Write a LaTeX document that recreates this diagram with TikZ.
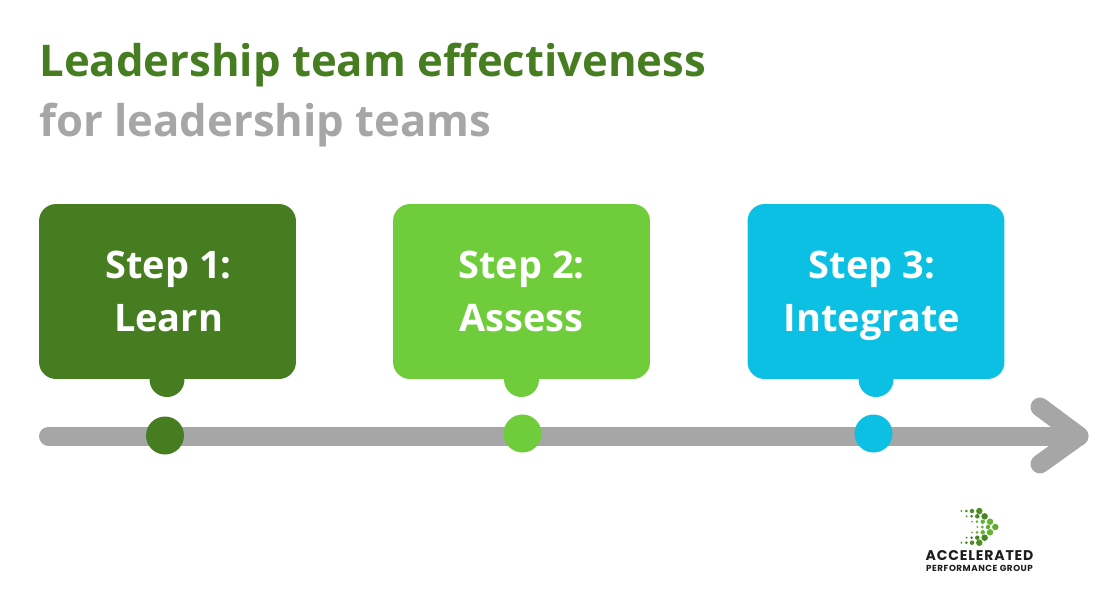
\documentclass[tikz,border=0pt]{standalone}
\usepackage{fontspec}
\usepackage{tikz}
\usetikzlibrary{positioning}
\setmainfont{Open Sans}
\newfontfamily\logofont[LetterSpace=6]{Poppins}
\newcommand{\stepstrut}{\rule{0pt}{24.4pt}}
\definecolor{darkgreen}{HTML}{467D21}
\definecolor{lightgreen}{HTML}{6FCC3A}
\definecolor{skyblue}{HTML}{0CC0E3}
\definecolor{railgray}{HTML}{A6A6A6}
\definecolor{logoblack}{HTML}{1E1E1E}
\tikzset{
  stepbox/.style={rounded corners=0.34cm,minimum width=5.14cm,minimum height=3.5cm,align=center,text=white,font=\fontsize{21.6}{30}\selectfont\bfseries},
  tab/.style={circle,minimum size=0.7cm},
  marker/.style={circle,minimum size=0.76cm},
  titleline/.style={anchor=base west,font=\fontsize{24.85}{30}\selectfont\bfseries},
  rail/.style={railgray,line width=0.38cm,line cap=round,line join=round},
  dot/.style={circle,minimum size=#1*0.02cm}
}
\begin{document}
\begin{tikzpicture}[x=0.02cm,y=-0.02cm,every node/.style={inner sep=0pt}]
\useasboundingbox (0,0) rectangle (1100,600);
\node[titleline,text=darkgreen] (title) at (39,76) {Leadership team effectiveness};
\node[titleline,text=railgray] (subtitle) at (39,136) {for leadership teams};
\coordinate (railstart) at (48.5,436);
\coordinate (railtip) at (1079,436);
\coordinate (headup) at (1040,407);
\coordinate (headdown) at (1040,464);
\draw[rail] (railstart)--(railtip);
\draw[rail] (headup)--(railtip)--(headdown);
\node[tab,fill=darkgreen] (tab1) at (167,379.5) {};
\node[tab,fill=lightgreen] (tab2) at (521.5,379.5) {};
\node[tab,fill=skyblue] (tab3) at (876,379.5) {};
\node[stepbox,fill=darkgreen] (step1) at (167.5,291.5) {\hspace*{0.04cm}Step 1:\stepstrut\\\hspace*{0.04cm}Learn\strut};
\node[stepbox,fill=lightgreen] (step2) at (521.5,291.5) {Step 2:\stepstrut\\Assess\strut};
\node[stepbox,fill=skyblue] (step3) at (876,291.5) {Step 3:\hspace*{0.16cm}\stepstrut\\Integrate\hspace*{0.16cm}\strut};
\node[marker,fill=darkgreen] (marker1) at (165,435.5) {};
\node[marker,fill=lightgreen] (marker2) at (522.5,433.5) {};
\node[marker,fill=skyblue] (marker3) at (873.5,433.5) {};
\foreach \row/\y/\dx/\tone in {1/511/0/20,2/516.3/5.3/10,3/521.7/10.7/70,4/527/16/60,5/532.3/10.7/70,6/537.7/5.3/10,7/542.7/0/20}{
  \node[dot=2,fill=lightgreen!\tone!darkgreen] (logo\row a) at (961.3+\dx,\y) {};
  \node[dot=3,fill=lightgreen!\tone!darkgreen] (logo\row b) at (966.3+\dx,\y) {};
  \node[dot=4.5,fill=lightgreen!\tone!darkgreen] (logo\row c) at (972+\dx,\y) {};
  \node[dot=6.5,fill=lightgreen!\tone!darkgreen] (logo\row d) at (979.3+\dx,\y) {};
}
\node[text=logoblack,font=\fontsize{8}{8}\logofont\bfseries] (logoname) at (979.5,556) {ACCELERATED};
\node[text=logoblack,font=\fontsize{5}{5}\logofont\bfseries] (logogroup) at (979.5,568) {PERFORMANCE GROUP};
\end{tikzpicture}
\end{document}
